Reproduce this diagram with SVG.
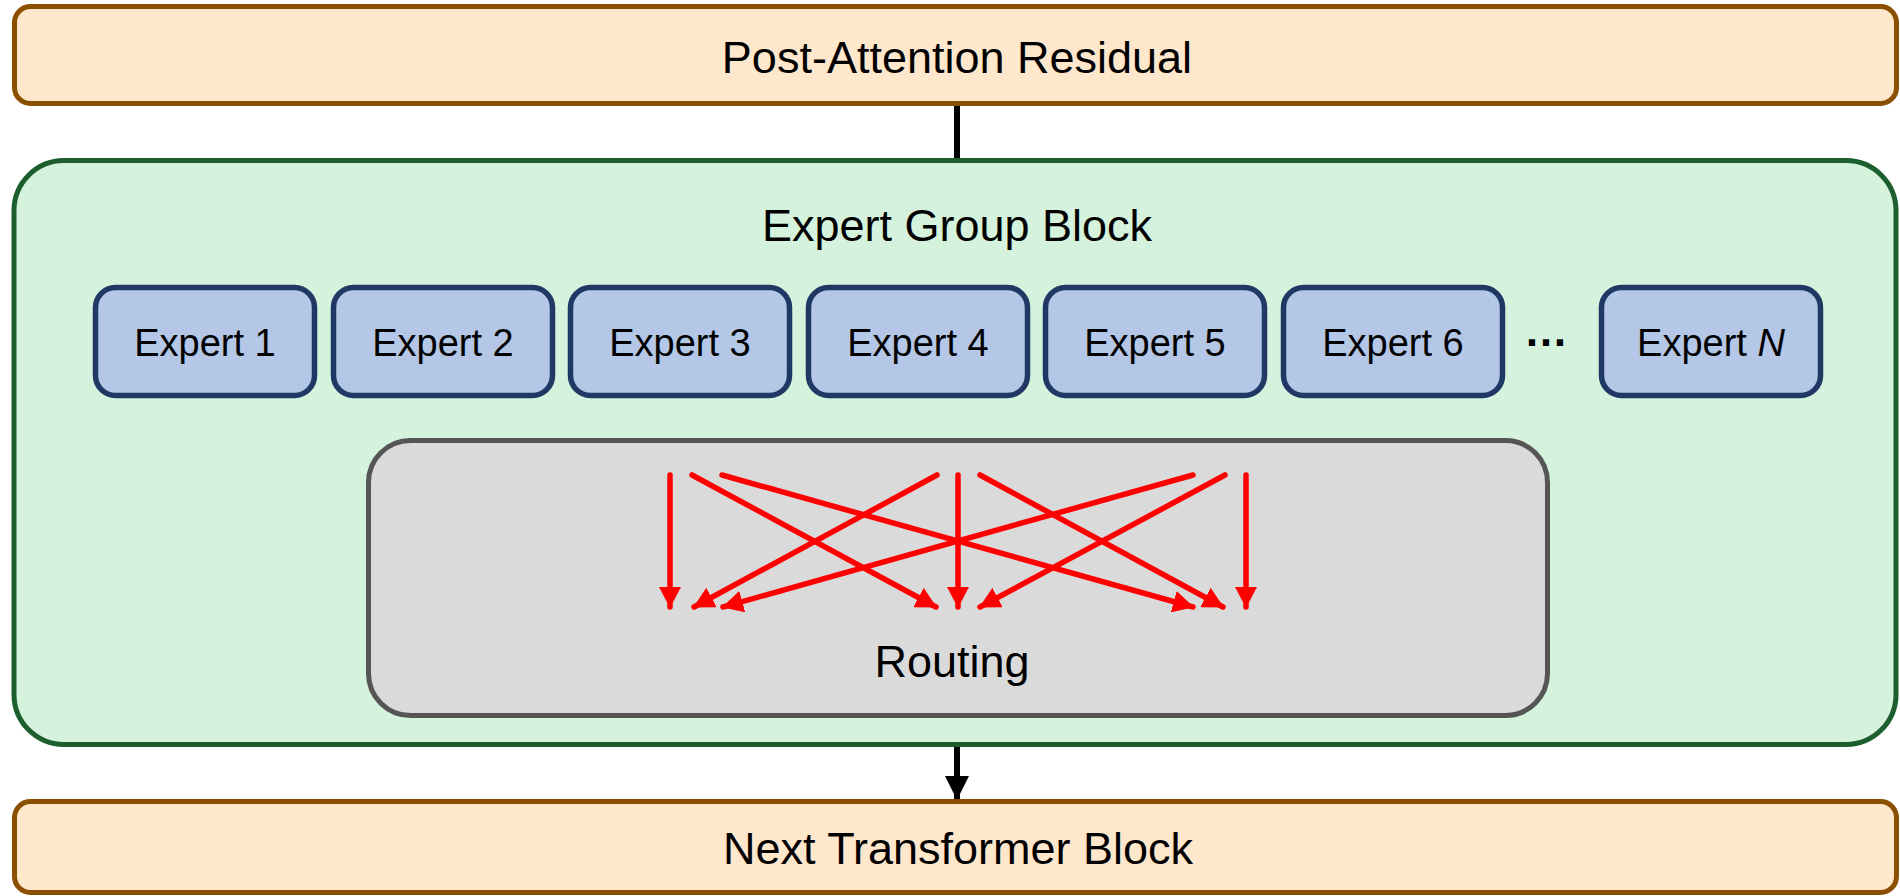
<svg xmlns="http://www.w3.org/2000/svg" width="1900" height="896" viewBox="0 0 1900 896">
  <defs>
    <marker id="redHead" markerUnits="userSpaceOnUse" markerWidth="21" markerHeight="22" viewBox="0 0 21 22" refX="20" refY="11" orient="auto">
      <path d="M0,0 L21,11 L0,22 Z" fill="#FF0000"/>
    </marker>
    <marker id="blackHead" markerUnits="userSpaceOnUse" markerWidth="24" markerHeight="24" viewBox="0 0 24 24" refX="23" refY="12" orient="auto">
      <path d="M0,0 L24,12 L0,24 Z" fill="#000000"/>
    </marker>
  </defs>
  <style>
    .band { fill: #FFE7CC; stroke: #8A5000; stroke-width: 5; }
    .group { fill: #D5F2DC; stroke: #1C5E2E; stroke-width: 5; }
    .expert { fill: #B4C7E7; stroke: #203864; stroke-width: 5.5; }
    .router { fill: #DADADA; stroke: #555555; stroke-width: 5; }
    .big { font-family: "Liberation Sans", Arial, sans-serif; font-size: 45px; fill: #000; text-anchor: middle; }
    .lbl { font-family: "Liberation Sans", Arial, sans-serif; font-size: 38px; fill: #000; text-anchor: middle; }
    .dots { font-family: "Liberation Sans", Arial, sans-serif; font-size: 44px; font-weight: bold; fill: #000; text-anchor: middle; }
    .route { stroke: #FF0000; stroke-width: 5.5; stroke-linecap: round; fill: none; marker-end: url(#redHead); }
    .flow { stroke: #000; stroke-width: 6; fill: none; }
  </style>

  <rect width="1900" height="896" fill="#FFFFFF"/>

  <g id="post-attention-residual">
    <rect class="band" x="14.5" y="6.5" width="1882" height="97" rx="16"/>
    <text class="big" x="957" y="73">Post-Attention Residual</text>
  </g>

  <g id="expert-group-block">
    <rect class="group" x="14" y="160.5" width="1882" height="584" rx="50"/>
    <text class="big" x="957" y="241">Expert Group Block</text>
  </g>

  <g id="expert-1">
    <rect class="expert" x="95.5" y="287.5" width="219" height="108" rx="20"/>
    <text class="lbl" x="205" y="356">Expert 1</text>
  </g>
  <g id="expert-2">
    <rect class="expert" x="333.5" y="287.5" width="219" height="108" rx="20"/>
    <text class="lbl" x="443" y="356">Expert 2</text>
  </g>
  <g id="expert-3">
    <rect class="expert" x="570.5" y="287.5" width="219" height="108" rx="20"/>
    <text class="lbl" x="680" y="356">Expert 3</text>
  </g>
  <g id="expert-4">
    <rect class="expert" x="808.5" y="287.5" width="219" height="108" rx="20"/>
    <text class="lbl" x="918" y="356">Expert 4</text>
  </g>
  <g id="expert-5">
    <rect class="expert" x="1045.5" y="287.5" width="219" height="108" rx="20"/>
    <text class="lbl" x="1155" y="356">Expert 5</text>
  </g>
  <g id="expert-6">
    <rect class="expert" x="1283.5" y="287.5" width="219" height="108" rx="20"/>
    <text class="lbl" x="1393" y="356">Expert 6</text>
  </g>
  <g id="ellipsis">
    <text class="dots" x="1546" y="346">…</text>
  </g>
  <g id="expert-n">
    <rect class="expert" x="1601.5" y="287.5" width="219" height="108" rx="20"/>
    <text class="lbl" x="1711" y="356">Expert <tspan font-style="italic">N</tspan></text>
  </g>

  <g id="routing">
    <rect class="router" x="368.5" y="440.5" width="1179" height="275" rx="42"/>
    <text class="big" x="952" y="677">Routing</text>
    <g id="routing-paths">
      <line class="route" x1="670" y1="475" x2="670" y2="607"/>
      <line class="route" x1="692" y1="475" x2="936" y2="607"/>
      <line class="route" x1="722" y1="475" x2="1193" y2="607"/>
      <line class="route" x1="937" y1="475" x2="694" y2="607"/>
      <line class="route" x1="958" y1="475" x2="958" y2="607"/>
      <line class="route" x1="980" y1="475" x2="1223" y2="607"/>
      <line class="route" x1="1193" y1="475" x2="723" y2="607"/>
      <line class="route" x1="1225" y1="475" x2="980" y2="607"/>
      <line class="route" x1="1246" y1="475" x2="1246" y2="607"/>
    </g>
  </g>

  <g id="next-transformer-block">
    <rect class="band" x="14.5" y="801.5" width="1882" height="91" rx="16"/>
    <text class="big" x="958" y="864">Next Transformer Block</text>
  </g>

  <g id="connectors">
    <line class="flow" x1="957" y1="106" x2="957" y2="158"/>
    <line class="flow" x1="957" y1="747" x2="957" y2="799" marker-end="url(#blackHead)"/>
  </g>
</svg>
